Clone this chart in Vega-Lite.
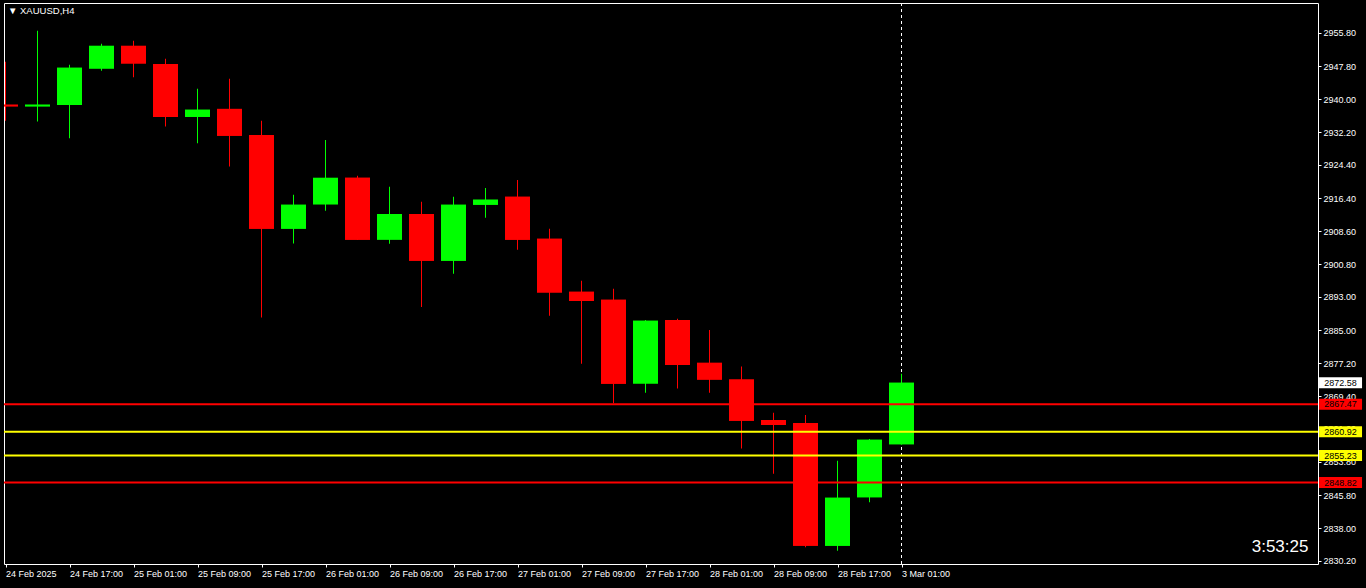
{
  "$schema": "https://vega.github.io/schema/vega-lite/v6.json",
  "autosize": {"type": "none"},
  "width": 1314,
  "height": 561,
  "padding": {"left": 4, "top": 3, "right": 48, "bottom": 24},
  "background": "#000000",
  "config": {
    "font": "Liberation Sans",
    "view": {"stroke": "#ffffff", "strokeWidth": 1},
    "axis": {
      "labelOverlap": false, "labelBound": false, "labelFlush": false, "labelSeparation": 0,
      "domain": false, "grid": false, "ticks": true, "tickColor": "#ffffff", "tickSize": 3, "tickWidth": 1,
      "labelColor": "#ffffff", "labelFont": "Liberation Sans", "labelFontSize": 9, "labelPadding": 2, "title": null
    }
  },
  "datasets": {
    "candles": [
      {"i": 0, "time": "24 Feb 09:00", "o": 2938.7, "h": 2948.9, "l": 2934.9, "c": 2938.3, "dir": "down"},
      {"i": 1, "time": "24 Feb 13:00", "o": 2938.3, "h": 2956.3, "l": 2934.7, "c": 2938.7, "dir": "up"},
      {"i": 2, "time": "24 Feb 17:00", "o": 2938.6, "h": 2948.2, "l": 2930.7, "c": 2947.5, "dir": "up"},
      {"i": 3, "time": "24 Feb 21:00", "o": 2947.3, "h": 2953.2, "l": 2946.8, "c": 2952.7, "dir": "up"},
      {"i": 4, "time": "25 Feb 01:00", "o": 2952.7, "h": 2953.9, "l": 2945.2, "c": 2948.5, "dir": "down"},
      {"i": 5, "time": "25 Feb 05:00", "o": 2948.4, "h": 2949.6, "l": 2933.5, "c": 2935.8, "dir": "down"},
      {"i": 6, "time": "25 Feb 09:00", "o": 2935.8, "h": 2942.5, "l": 2929.5, "c": 2937.5, "dir": "up"},
      {"i": 7, "time": "25 Feb 13:00", "o": 2937.7, "h": 2944.9, "l": 2924.0, "c": 2931.3, "dir": "down"},
      {"i": 8, "time": "25 Feb 17:00", "o": 2931.5, "h": 2934.9, "l": 2888.1, "c": 2909.2, "dir": "down"},
      {"i": 9, "time": "25 Feb 21:00", "o": 2909.2, "h": 2917.3, "l": 2905.7, "c": 2914.9, "dir": "up"},
      {"i": 10, "time": "26 Feb 01:00", "o": 2915.0, "h": 2930.3, "l": 2913.5, "c": 2921.3, "dir": "up"},
      {"i": 11, "time": "26 Feb 05:00", "o": 2921.3, "h": 2921.8, "l": 2906.5, "c": 2906.6, "dir": "down"},
      {"i": 12, "time": "26 Feb 09:00", "o": 2906.6, "h": 2919.2, "l": 2905.6, "c": 2912.7, "dir": "up"},
      {"i": 13, "time": "26 Feb 13:00", "o": 2912.7, "h": 2915.6, "l": 2890.6, "c": 2901.6, "dir": "down"},
      {"i": 14, "time": "26 Feb 17:00", "o": 2901.6, "h": 2916.8, "l": 2898.5, "c": 2914.9, "dir": "up"},
      {"i": 15, "time": "26 Feb 21:00", "o": 2914.9, "h": 2918.9, "l": 2911.8, "c": 2916.1, "dir": "up"},
      {"i": 16, "time": "27 Feb 01:00", "o": 2916.8, "h": 2920.8, "l": 2904.2, "c": 2906.6, "dir": "down"},
      {"i": 17, "time": "27 Feb 05:00", "o": 2906.8, "h": 2909.2, "l": 2888.5, "c": 2894.0, "dir": "down"},
      {"i": 18, "time": "27 Feb 09:00", "o": 2894.2, "h": 2896.8, "l": 2877.1, "c": 2892.0, "dir": "down"},
      {"i": 19, "time": "27 Feb 13:00", "o": 2892.3, "h": 2894.9, "l": 2867.7, "c": 2872.3, "dir": "down"},
      {"i": 20, "time": "27 Feb 17:00", "o": 2872.4, "h": 2887.5, "l": 2870.2, "c": 2887.3, "dir": "up"},
      {"i": 21, "time": "27 Feb 21:00", "o": 2887.5, "h": 2887.8, "l": 2871.2, "c": 2876.8, "dir": "down"},
      {"i": 22, "time": "28 Feb 01:00", "o": 2877.3, "h": 2885.1, "l": 2870.2, "c": 2873.3, "dir": "down"},
      {"i": 23, "time": "28 Feb 05:00", "o": 2873.3, "h": 2876.4, "l": 2856.9, "c": 2863.5, "dir": "down"},
      {"i": 24, "time": "28 Feb 09:00", "o": 2863.7, "h": 2865.4, "l": 2850.9, "c": 2862.5, "dir": "down"},
      {"i": 25, "time": "28 Feb 13:00", "o": 2863.0, "h": 2864.9, "l": 2833.4, "c": 2833.8, "dir": "down"},
      {"i": 26, "time": "28 Feb 17:00", "o": 2833.8, "h": 2854.0, "l": 2832.6, "c": 2845.2, "dir": "up"},
      {"i": 27, "time": "28 Feb 21:00", "o": 2845.3, "h": 2859.2, "l": 2844.1, "c": 2859.0, "dir": "up"},
      {"i": 28, "time": "3 Mar 01:00", "o": 2857.9, "h": 2874.7, "l": 2857.8, "c": 2872.58, "dir": "up"}
    ],
    "levels": [
      {"price": 2872.58, "kind": "bid"},
      {"price": 2867.47, "kind": "outer"},
      {"price": 2860.92, "kind": "inner"},
      {"price": 2855.23, "kind": "inner"},
      {"price": 2848.82, "kind": "outer"}
    ],
    "notes": [
      {"label": "▼ XAUUSD,H4", "role": "symbol"},
      {"label": "3:53:25", "role": "timer"}
    ]
  },
  "layer": [
    {
      "data": {"name": "candles"},
      "mark": {"type": "bar", "width": 25, "clip": true, "strokeWidth": 0},
      "encoding": {
        "x": {
          "field": "i", "type": "quantitative",
          "scale": {"domain": [-0.046875, 41.015625], "nice": false, "zero": false, "padding": 0},
          "axis": {
            "title": null, "orient": "bottom", "values": [0, 2, 4, 6, 8, 10, 12, 14, 16, 18, 20, 22, 24, 26, 28],
            "tickCount": 40,
            "labelExpr": "['24 Feb 2025','24 Feb 17:00','25 Feb 01:00','25 Feb 09:00','25 Feb 17:00','26 Feb 01:00','26 Feb 09:00','26 Feb 17:00','27 Feb 01:00','27 Feb 09:00','27 Feb 17:00','28 Feb 01:00','28 Feb 09:00','28 Feb 17:00','3 Mar 01:00'][datum.value / 2]",
            "labelAlign": "left", "labelBaseline": "top", "labelOverlap": false
          }
        },
        "y": {
          "field": "o", "type": "quantitative",
          "scale": {"domain": [2829.44, 2962.89], "nice": false, "zero": false},
          "axis": {
            "title": null, "orient": "right",
            "values": [2955.8, 2947.8, 2940.0, 2932.2, 2924.4, 2916.4, 2908.6, 2900.8, 2893.0, 2885.0, 2877.2, 2869.4, 2861.6, 2853.8, 2845.8, 2838.0, 2830.2],
            "tickCount": 40,
            "format": ".2f", "labelBaseline": "middle", "labelOverlap": false
          }
        },
        "y2": {"field": "c"},
        "color": {"field": "dir", "type": "nominal", "scale": {"domain": ["up", "down"], "range": ["#00ff00", "#ff0000"]}, "legend": null}
      }
    },
    {
      "data": {"name": "candles"},
      "transform": [{"filter": "datum.i == 28"}],
      "mark": {"type": "rule", "color": "#ffffff", "strokeWidth": 1, "strokeDash": [3, 3]},
      "encoding": {
        "x": {"field": "i", "type": "quantitative"}
      }
    },
    {
      "data": {"name": "candles"},
      "mark": {"type": "bar", "width": 1, "clip": true, "strokeWidth": 0},
      "encoding": {
        "x": {"field": "i", "type": "quantitative"},
        "y": {"field": "l", "type": "quantitative"},
        "y2": {"field": "h"},
        "color": {"field": "dir", "type": "nominal", "scale": {"domain": ["up", "down"], "range": ["#00ff00", "#ff0000"]}, "legend": null}
      }
    },
    {
      "data": {"name": "candles"},
      "mark": {"type": "bar", "width": 25, "clip": true, "strokeWidth": 0},
      "encoding": {
        "x": {"field": "i", "type": "quantitative"},
        "y": {"field": "o", "type": "quantitative"},
        "y2": {"field": "c"},
        "color": {"field": "dir", "type": "nominal", "scale": {"domain": ["up", "down"], "range": ["#00ff00", "#ff0000"]}, "legend": null}
      }
    },
    {
      "data": {"name": "levels"},
      "transform": [{"filter": "datum.kind != 'bid'"}],
      "mark": {"type": "rule", "strokeWidth": 2},
      "encoding": {
        "y": {"field": "price", "type": "quantitative"},
        "stroke": {"field": "kind", "type": "nominal", "scale": {"domain": ["bid", "outer", "inner"], "range": ["#ffffff", "#ff0000", "#ffff00"]}, "legend": null}
      }
    },
    {
      "data": {"name": "levels"},
      "mark": {"type": "tick", "orient": "horizontal", "size": 43, "thickness": 11, "opacity": 1, "clip": false},
      "encoding": {
        "x": {"datum": 41.72, "type": "quantitative"},
        "y": {"field": "price", "type": "quantitative"},
        "color": {"field": "kind", "type": "nominal", "scale": {"domain": ["bid", "outer", "inner"], "range": ["#ffffff", "#ff0000", "#ffff00"]}, "legend": null}
      }
    },
    {
      "data": {"name": "levels"},
      "mark": {"type": "text", "color": "#000000", "font": "Liberation Sans", "fontSize": 9, "align": "center", "baseline": "middle", "clip": false},
      "encoding": {
        "x": {"datum": 41.72, "type": "quantitative"},
        "y": {"field": "price", "type": "quantitative"},
        "text": {"field": "price", "type": "quantitative", "format": ".2f"}
      }
    },
    {
      "data": {"name": "notes"},
      "transform": [{"filter": "datum.role == 'symbol'"}],
      "mark": {"type": "text", "color": "#ffffff", "font": "Liberation Sans", "fontSize": 9.5, "align": "left", "baseline": "middle"},
      "encoding": {
        "x": {"datum": 0.078, "type": "quantitative"},
        "y": {"datum": 2961.0, "type": "quantitative"},
        "text": {"field": "label"}
      }
    },
    {
      "data": {"name": "notes"},
      "transform": [{"filter": "datum.role == 'timer'"}],
      "mark": {"type": "text", "color": "#ffffff", "font": "Liberation Sans", "fontSize": 17, "align": "center", "baseline": "middle"},
      "encoding": {
        "x": {"datum": 39.83, "type": "quantitative"},
        "y": {"datum": 2833.48, "type": "quantitative"},
        "text": {"field": "label"}
      }
    }
  ],
  "resolve": {"scale": {"color": "independent", "stroke": "independent"}}
}
